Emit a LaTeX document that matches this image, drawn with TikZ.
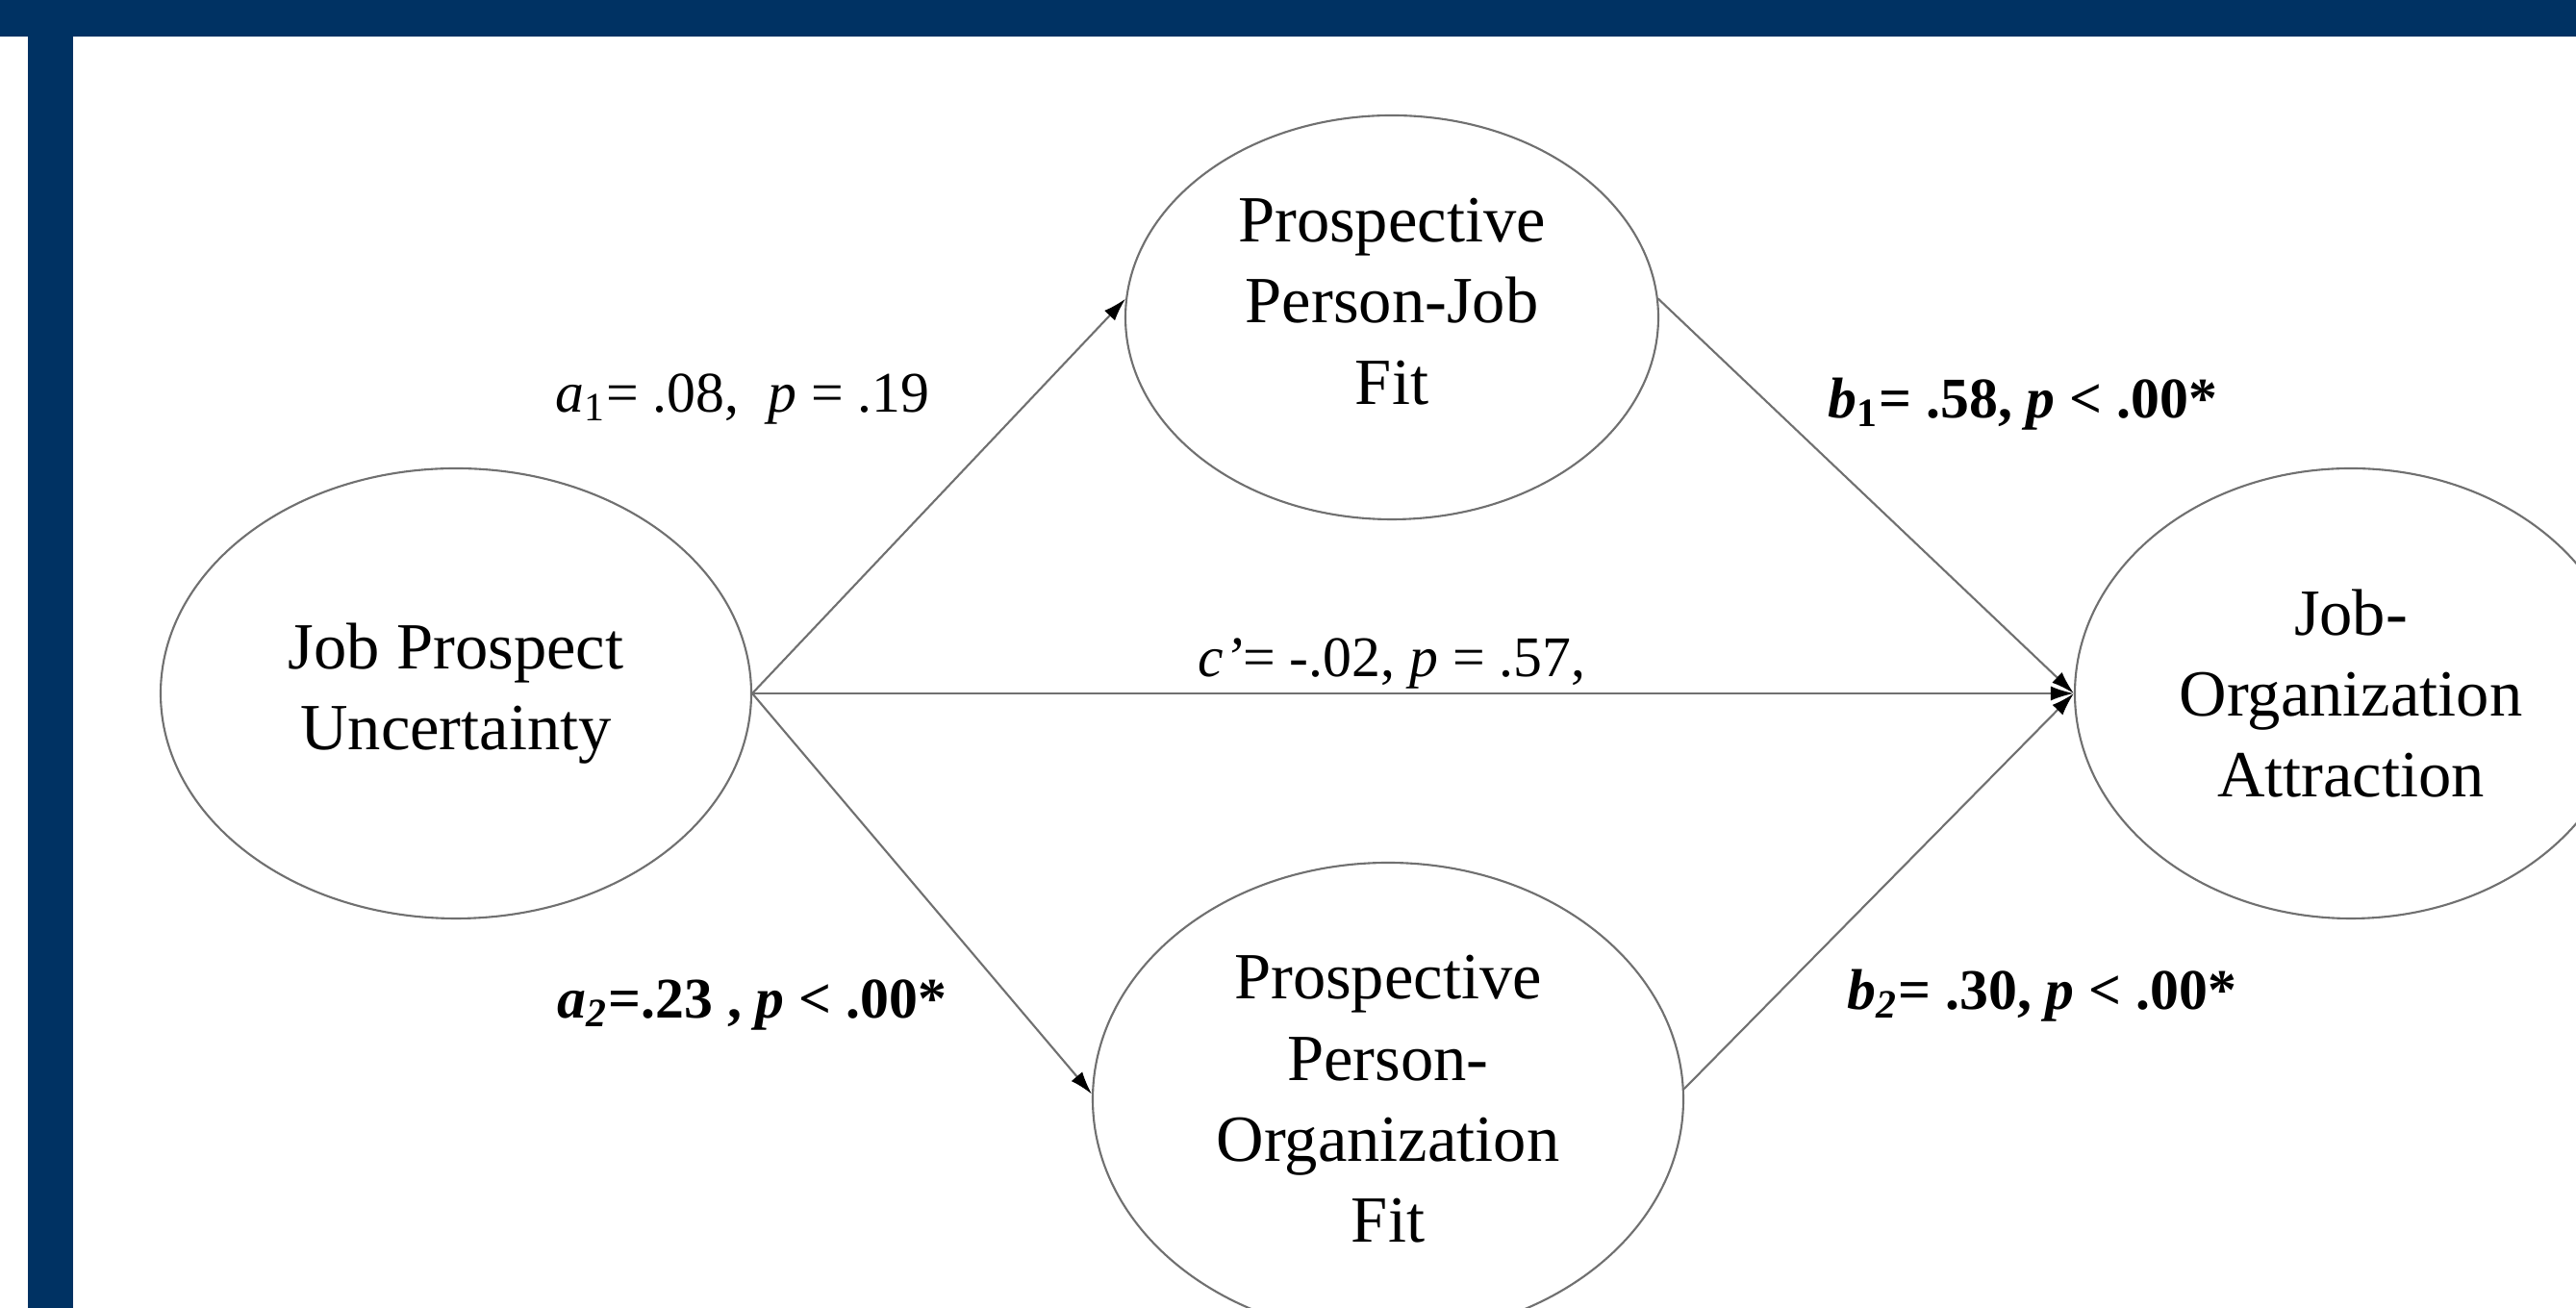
\documentclass[tikz,border=0pt]{standalone}
\usepackage{fontspec}
\setmainfont{Liberation Serif}
\usetikzlibrary{arrows.meta, shapes.geometric}
\definecolor{pmnavy}{HTML}{003263}
\definecolor{pmline}{HTML}{707070}

\begin{document}
\begin{tikzpicture}[
  every node/.style={font=\fontsize{19.5}{24}\selectfont},
  latent/.style={ellipse, draw=pmline, line width=0.6pt, inner sep=0pt, align=center},
  path/.style={draw=pmline, line width=0.6pt, -{Latex[length=2.4mm, width=1.5mm, black]}},
  coef/.style={inner sep=1pt, font=\fontsize{17}{20}\selectfont},
]

% frame and page
\useasboundingbox (0,0) rectangle (26.78,13.60);
\fill[white] (0,0) rectangle (26.78,13.60);
\fill[pmnavy] (0,13.22) rectangle (26.78,13.60);
\fill[pmnavy] (0.29,0) rectangle (0.76,13.22);

% latent variables
\node[latent, minimum width=6.14cm, minimum height=4.68cm] (jpu) at (4.74, 6.39) {Job Prospect\\Uncertainty};
\node[latent, minimum width=5.54cm, minimum height=4.20cm, text depth=0.34cm] (ppj) at (14.47, 10.30) {Prospective\\Person-Job\\Fit};
\node[latent, minimum width=6.14cm, minimum height=4.92cm] (ppo) at (14.43, 2.17) {Prospective\\Person-\\Organization\\Fit};
\node[latent, minimum width=5.74cm, minimum height=4.68cm] (joa) at (24.44, 6.39) {Job-\\Organization\\Attraction};

% paths
\draw[path] (jpu.east) -- (ppj.176);
\draw[path] (jpu.east) -- (ppo.179);
\draw[path] (jpu.east) -- (joa.west);
\draw[path] (ppj.4) -- (joa.west);
\draw[path] (ppo.2) -- (joa.west);

% coefficients
\node[coef] (ca1) at (7.72, 9.45) {\textit{a}\textsubscript{1}= .08,\ \ \textit{p} = .19};
\node[coef] (ca2) at (7.82, 3.15) {\textbf{\textit{a\textsubscript{2}}=.23 , \textit{p} < .00*}};
\node[coef] (cc) at (14.47, 6.70) {\textit{c’}= -.02, \textit{p} = .57,};
\node[coef] (cb1) at (21.03, 9.40) {\textbf{\textit{b}\textsubscript{1}= .58, \textit{p} < .00*}};
\node[coef] (cb2) at (21.23, 3.25) {\textbf{\textit{b\textsubscript{2}}= .30, \textit{p} < .00*}};

\end{tikzpicture}
\end{document}
